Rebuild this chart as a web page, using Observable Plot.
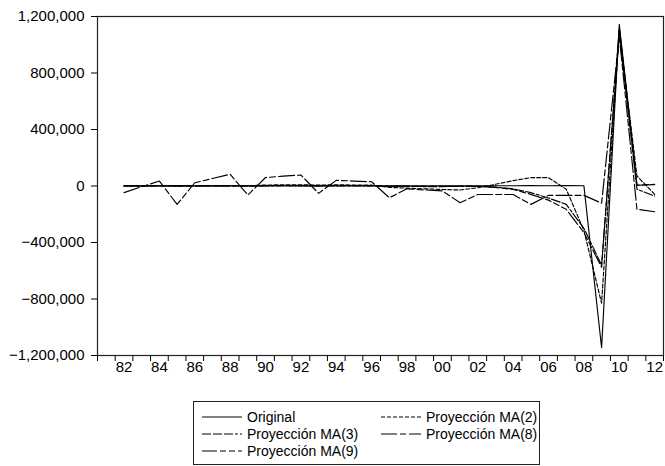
<!DOCTYPE html>
<html>
<head>
<meta charset="utf-8">
<script src="https://cdn.jsdelivr.net/npm/d3@7"></script>
<script src="https://cdn.jsdelivr.net/npm/@observablehq/plot@0.6"></script>
<style>
  html, body { margin: 0; padding: 0; background: white; }
  #wrap { position: relative; width: 665px; height: 466px; font-family: "Liberation Sans", Arial, sans-serif; }
  #legend { position: absolute; left: 193px; top: 401px; width: 347px; height: 64px; border: 1px solid #222; box-sizing: border-box; }
  .item { position: absolute; height: 16px; display: flex; align-items: center; font-size: 14px; color: black; white-space: nowrap; }
  .item svg { margin-right: 5px; }
</style>
</head>
<body>
<div id="wrap"><div id="chart"></div><div id="legend"></div></div>
<script>
const years = [1982,1983,1984,1985,1986,1987,1988,1989,1990,1991,1992,1993,1994,1995,1996,1997,1998,1999,2000,2001,2002,2003,2004,2005,2006,2007,2008,2009,2010,2011,2012];

const original = [1500,1200,1800,900,1400,2000,1600,1100,1900,2200,1700,1300,2100,1800,1500,1200,1600,1400,1900,1700,2000,1500,1800,2200,1900,2400,2000,-1145000,1145000,5000,10000];

const ma2 = [1000,1500,2000,1200,1800,2500,3000,2000,7000,8000,8000,7000,8000,7000,6000,-10000,-15000,-20000,-25000,-28000,-12000,12000,38000,59000,59000,-23000,-315000,-830000,1100000,71000,-59000];

const ma3 = [0,500,800,400,600,900,1000,700,1200,1500,1300,1000,1400,1200,900,-2000,-3000,-4000,-4000,-3000,-3000,-8000,-20000,-47000,-85000,-130000,-300000,-560000,1080000,-23000,-71000];

const ma8 = [-47000,-5000,35000,-130000,23000,53000,83000,-64000,60000,70000,78000,-52000,40000,35000,30000,-83000,-20000,-28000,-35000,-118000,-60000,-60000,-60000,-130000,-66000,-66000,-66000,-122000,1060000,-165000,-182000];

const ma9 = [500,800,1000,600,900,1200,1400,1000,1600,1800,1700,1400,1800,1600,1300,-1000,-2000,-2500,-3000,-2000,-2000,-10000,-25000,-59000,-100000,-165000,-330000,-575000,1120000,5000,12000];

const seriesNames = ["Original","Proyección MA(2)","Proyección MA(3)","Proyección MA(8)","Proyección MA(9)"];
const seriesValues = [original, ma2, ma3, ma8, ma9];
const dashes = [null, "4,2", "9,2,9,2,9,2,3,2", "16,3,6,3", "15,3,6,3,6,3,6,3"];

const yTicks = [-1200000,-800000,-400000,0,400000,800000,1200000];
const xLabelYears = [1982,1984,1986,1988,1990,1992,1994,1996,1998,2000,2002,2004,2006,2008,2010,2012];
const xTickLabels = ["82","84","86","88","90","92","94","96","98","00","02","04","06","08","10","12"];

const boundaries = [years[0] - 1.5].concat(years.map(y => y - 0.5), [years[years.length - 1] + 0.5]);

const drawOrder = [4, 3, 2, 1, 0];
const lineMarks = drawOrder.map(i => {
  const data = years.map((yr, k) => ({year: yr, value: seriesValues[i][k]}));
  const opts = {x: "year", y: "value", stroke: "black", strokeWidth: 1.15};
  if (dashes[i]) opts.strokeDasharray = dashes[i];
  return Plot.line(data, opts);
});

const chart = Plot.plot({
  width: 665,
  height: 380,
  marginLeft: 97,
  marginRight: 2,
  marginTop: 16,
  marginBottom: 25,
  x: {domain: [years[0] - 1.5, years[years.length - 1] + 0.5]},
  y: {domain: [-1200000, 1200000]},
  style: {fontFamily: "'Liberation Sans', Arial, sans-serif", fontSize: "15px", color: "black", background: "white", overflow: "visible"},
  marks: [
    Plot.axisY({ticks: yTicks, tickSize: 6, tickPadding: 7, tickFormat: d3.format(","), label: null}),
    Plot.axisX({ticks: boundaries, tickSize: 6, tickFormat: () => "", label: null}),
    Plot.axisX({ticks: xLabelYears, tickSize: 0, tickPadding: 6, tickFormat: d => xTickLabels[xLabelYears.indexOf(d)], label: null}),
    ...lineMarks,
    Plot.frame({stroke: "#222", strokeWidth: 1.2})
  ]
});
document.getElementById("chart").appendChild(chart);

// legend
const legend = document.getElementById("legend");
const positions = [[8, 7], [187, 7], [8, 24], [187, 24], [8, 41]];
seriesNames.forEach((name, i) => {
  const div = document.createElement("div");
  div.className = "item";
  div.style.left = positions[i][0] + "px";
  div.style.top = positions[i][1] + "px";
  const dash = dashes[i] ? ` stroke-dasharray="${dashes[i]}"` : "";
  div.innerHTML = `<svg width="40" height="4"><line x1="0" x2="40" y1="2" y2="2" stroke="black" stroke-width="1.2"${dash}/></svg><span>${name}</span>`;
  legend.appendChild(div);
});
</script>
</body>
</html>
